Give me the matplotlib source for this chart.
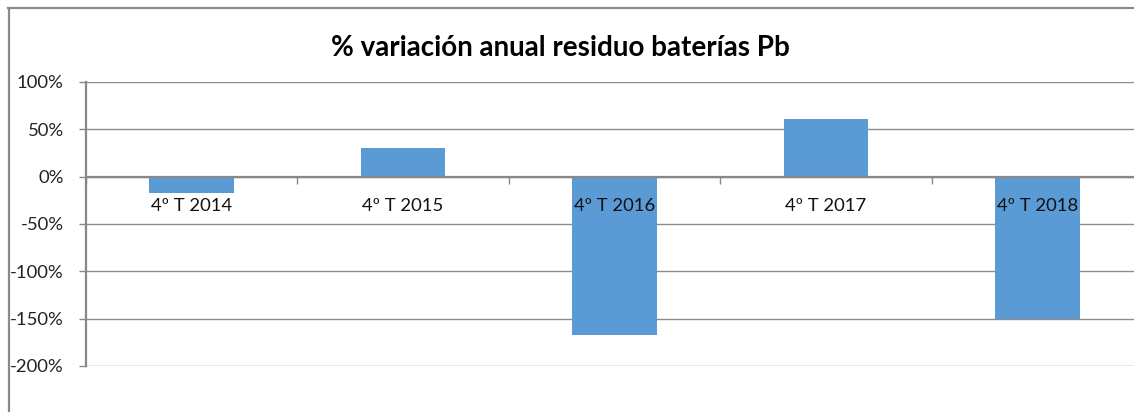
import matplotlib
matplotlib.use('Agg')
import matplotlib.pyplot as plt
from matplotlib.lines import Line2D
from matplotlib.ticker import FuncFormatter

categories = ['4º T 2014', '4º T 2015', '4º T 2016', '4º T 2017', '4º T 2018']
variation = [-17.5, 29.8, -167.0, 61.0, -150.0]
y_ticks = [-200, -150, -100, -50, 0, 50, 100]

plt.rcParams['font.family'] = ['Lato', 'DejaVu Sans']

W, H = 1134, 412
fig = plt.figure(figsize=(W / 100, H / 100), dpi=100)
ax = fig.add_axes([86 / W, (H - 366) / H, 1057 / W, 284 / H])

x = list(range(len(categories)))
ax.bar(x, variation, width=0.4, color='#5B9BD5', zorder=2)

ax.set_xlim(-0.5, len(categories) - 0.5)
ax.set_ylim(-200, 100)
ax.set_yticks(y_ticks)
ax.yaxis.set_major_formatter(FuncFormatter(lambda v, p: f'{v:.0f}%'))
ax.tick_params(axis='y', length=5, width=1, color='#888888', pad=11,
               labelsize=13.3, labelcolor='#222222')
ax.grid(axis='y', color='#8c8c8c', linewidth=1)
ax.set_axisbelow(True)

# category axis sits on the zero line
ax.spines['bottom'].set_position(('data', 0))
ax.spines['bottom'].set_color('#888888')
ax.spines['bottom'].set_linewidth(1.6)
ax.spines['bottom'].set_zorder(3)
ax.spines['left'].set_color('#888888')
ax.spines['left'].set_linewidth(1.6)
ax.spines['top'].set_visible(False)
ax.spines['right'].set_visible(False)
ax.set_xticks(x)
ax.set_xticklabels([])
ax.tick_params(axis='x', which='major', length=0)
ax.set_xticks([i - 0.5 for i in range(len(categories) + 1)], minor=True)
ax.tick_params(axis='x', which='minor', length=5, width=1, color='#888888',
               direction='out')

for i, lab in enumerate(categories):
    ax.annotate(lab, (i, 0), xytext=(0, -21), textcoords='offset points',
                ha='center', va='center', fontsize=13.3, color='#111111',
                zorder=4)

fig.suptitle('% variación anual residuo baterías Pb', x=560 / W, y=1 - 48 / H,
             va='center', fontsize=20, fontweight='bold')

# outer chart frame (only top and left edges are visible)
fig.add_artist(Line2D([8 / W, 1.0], [1 - 7.5 / H] * 2, color='#8a8a8a', lw=1.6))
fig.add_artist(Line2D([8.5 / W] * 2, [0, 1 - 7.5 / H], color='#8a8a8a', lw=1.6))

fig.savefig('out.png', dpi=100)
